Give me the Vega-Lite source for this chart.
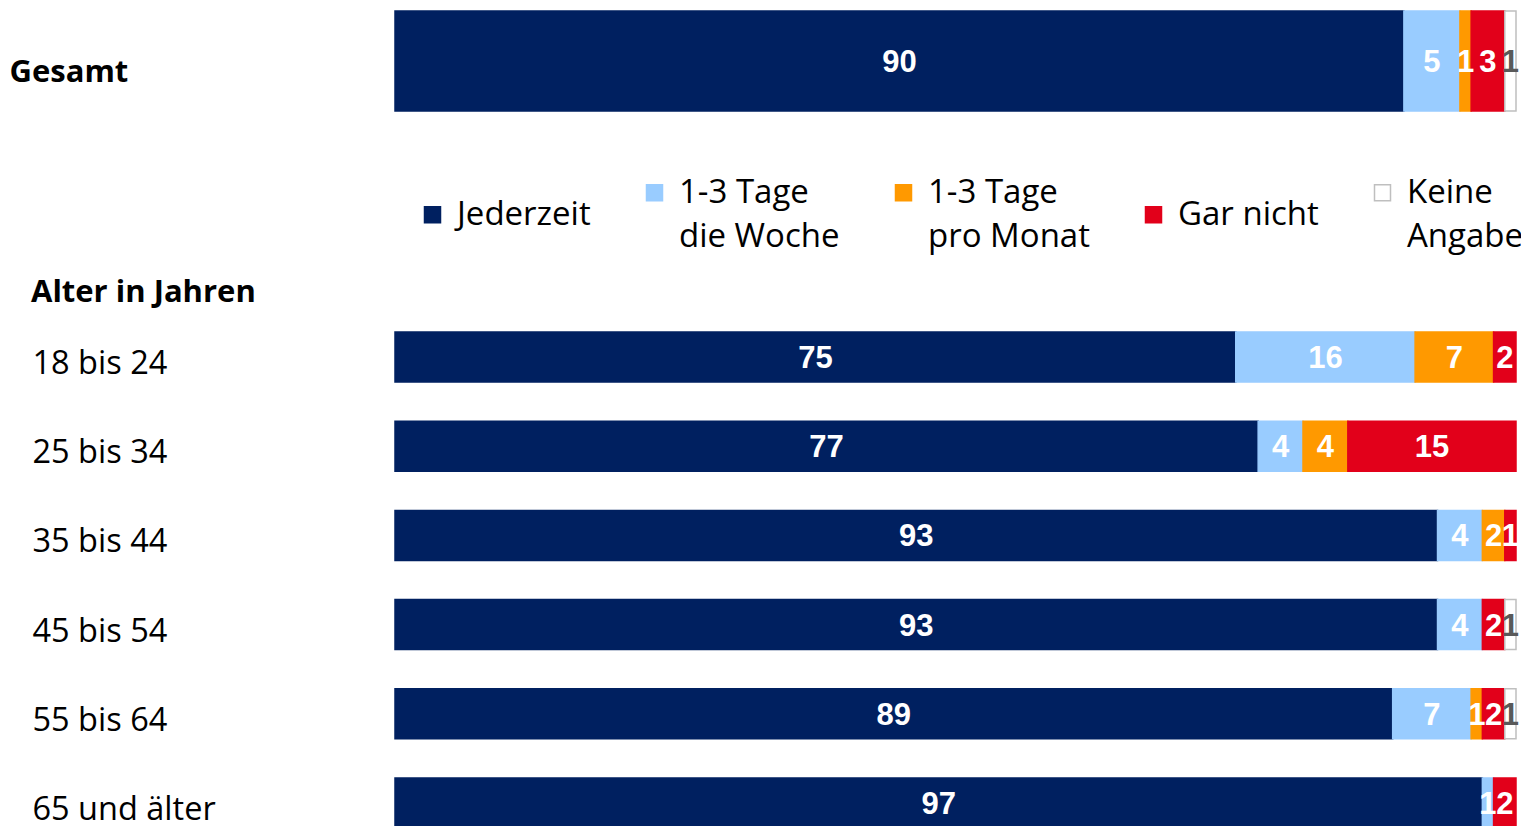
{
  "$schema": "https://vega.github.io/schema/vega-lite/v6.json",
  "padding": {"left": 8, "top": 10, "right": 5, "bottom": 0},
  "background": "white",
  "config": {
    "view": {"stroke": null},
    "style": {"guide-label": {"lineHeight": 44}}
  },
  "datasets": {
    "gesamt": [
      {"group": "Gesamt", "cat": "Jederzeit", "ord": 1, "value": 90},
      {"group": "Gesamt", "cat": "1-3 Tage die Woche", "ord": 2, "value": 5},
      {"group": "Gesamt", "cat": "1-3 Tage pro Monat", "ord": 3, "value": 1},
      {"group": "Gesamt", "cat": "Gar nicht", "ord": 4, "value": 3},
      {"group": "Gesamt", "cat": "Keine Angabe", "ord": 5, "value": 1}
    ],
    "alter": [
      {"group": "18 bis 24", "cat": "Jederzeit", "ord": 1, "value": 75},
      {"group": "18 bis 24", "cat": "1-3 Tage die Woche", "ord": 2, "value": 16},
      {"group": "18 bis 24", "cat": "1-3 Tage pro Monat", "ord": 3, "value": 7},
      {"group": "18 bis 24", "cat": "Gar nicht", "ord": 4, "value": 2},
      {"group": "25 bis 34", "cat": "Jederzeit", "ord": 1, "value": 77},
      {"group": "25 bis 34", "cat": "1-3 Tage die Woche", "ord": 2, "value": 4},
      {"group": "25 bis 34", "cat": "1-3 Tage pro Monat", "ord": 3, "value": 4},
      {"group": "25 bis 34", "cat": "Gar nicht", "ord": 4, "value": 15},
      {"group": "35 bis 44", "cat": "Jederzeit", "ord": 1, "value": 93},
      {"group": "35 bis 44", "cat": "1-3 Tage die Woche", "ord": 2, "value": 4},
      {"group": "35 bis 44", "cat": "1-3 Tage pro Monat", "ord": 3, "value": 2},
      {"group": "35 bis 44", "cat": "Gar nicht", "ord": 4, "value": 1},
      {"group": "45 bis 54", "cat": "Jederzeit", "ord": 1, "value": 93},
      {"group": "45 bis 54", "cat": "1-3 Tage die Woche", "ord": 2, "value": 4},
      {"group": "45 bis 54", "cat": "Gar nicht", "ord": 4, "value": 2},
      {"group": "45 bis 54", "cat": "Keine Angabe", "ord": 5, "value": 1},
      {"group": "55 bis 64", "cat": "Jederzeit", "ord": 1, "value": 89},
      {"group": "55 bis 64", "cat": "1-3 Tage die Woche", "ord": 2, "value": 7},
      {"group": "55 bis 64", "cat": "1-3 Tage pro Monat", "ord": 3, "value": 1},
      {"group": "55 bis 64", "cat": "Gar nicht", "ord": 4, "value": 2},
      {"group": "55 bis 64", "cat": "Keine Angabe", "ord": 5, "value": 1},
      {"group": "65 und älter", "cat": "Jederzeit", "ord": 1, "value": 97},
      {"group": "65 und älter", "cat": "1-3 Tage die Woche", "ord": 2, "value": 1},
      {"group": "65 und älter", "cat": "Gar nicht", "ord": 4, "value": 2}
    ]
  },
  "resolve": {"legend": {"color": "independent", "stroke": "independent"}},
  "spacing": 23,
  "vconcat": [
    {
      "data": {"name": "gesamt"},
      "width": 1121,
      "height": 100,
      "encoding": {
        "y": {
          "field": "group", "type": "nominal",
          "scale": {"paddingInner": 0, "paddingOuter": 0},
          "axis": {"title": null, "ticks": false, "tickSize": 0, "domain": false, "labelAlign": "left", "labelPadding": 386, "labelOffset": 12, "labelFont": "Open Sans", "labelFontSize": 31, "labelFontWeight": "bold", "labelColor": "black", "labelLimit": 400}
        }
      },
      "layer": [
        {
          "mark": {"type": "bar", "strokeWidth": 1.5},
          "encoding": {
            "x": {"field": "value", "type": "quantitative", "stack": "zero", "scale": {"domain": [0, 100], "nice": false}, "axis": null},
            "order": {"field": "ord", "type": "quantitative"},
            "color": {
              "field": "cat", "type": "nominal",
              "scale": {"domain": ["Jederzeit", "1-3 Tage die Woche", "1-3 Tage pro Monat", "Gar nicht", "Keine Angabe"], "range": ["#002060", "#99CCFF", "#FF9900", "#E2001A", "#FFFFFF"]},
              "legend": {
                "title": null, "orient": "none", "legendX": 21, "legendY": 165, "direction": "horizontal", "padding": 0,
                "symbolType": "square", "symbolSize": 256, "symbolStrokeWidth": 1.5, "labelOffset": 8, "columnPadding": 47,
                "labelFont": "Open Sans", "labelFontSize": 33, "labelColor": "black", "labelLimit": 400,
                "labelExpr": "datum.label === '1-3 Tage die Woche' ? ['1-3 Tage', 'die Woche'] : datum.label === '1-3 Tage pro Monat' ? ['1-3 Tage', 'pro Monat'] : datum.label === 'Keine Angabe' ? ['Keine', 'Angabe'] : datum.label"
              }
            },
            "stroke": {
              "field": "cat", "type": "nominal",
              "scale": {"domain": ["Jederzeit", "1-3 Tage die Woche", "1-3 Tage pro Monat", "Gar nicht", "Keine Angabe"], "range": ["#002060", "#99CCFF", "#FF9900", "#E2001A", "#BFBFBF"]},
              "legend": {
                "title": null, "orient": "none", "legendX": 21, "legendY": 165, "direction": "horizontal", "padding": 0,
                "symbolType": "square", "symbolSize": 256, "symbolStrokeWidth": 1.5, "labelOffset": 8, "columnPadding": 47,
                "labelFont": "Open Sans", "labelFontSize": 33, "labelColor": "black", "labelLimit": 400,
                "labelExpr": "datum.label === '1-3 Tage die Woche' ? ['1-3 Tage', 'die Woche'] : datum.label === '1-3 Tage pro Monat' ? ['1-3 Tage', 'pro Monat'] : datum.label === 'Keine Angabe' ? ['Keine', 'Angabe'] : datum.label"
              }
            }
          }
        },
        {
          "mark": {"type": "text", "font": "Liberation Sans", "fontWeight": "bold", "fontSize": 31, "baseline": "middle", "align": "center", "dy": 2},
          "encoding": {
            "x": {"field": "value", "type": "quantitative", "stack": "zero", "bandPosition": 0.5},
            "order": {"field": "ord", "type": "quantitative"},
            "text": {"field": "value", "type": "quantitative"},
            "color": {"condition": {"test": "datum.cat === 'Keine Angabe'", "value": "#595959"}, "value": "#FFFFFF"}
          }
        }
      ]
    },
    {
      "data": {"name": "alter"},
      "width": 1121,
      "height": 496,
      "title": {"text": "Alter in Jahren", "anchor": "start", "frame": "bounds", "font": "Open Sans", "fontSize": 31, "fontWeight": "bold", "color": "black", "offset": 22, "dx": 23},
      "encoding": {
        "y": {
          "field": "group", "type": "nominal", "sort": null,
          "scale": {"paddingInner": 0.4395, "paddingOuter": 0},
          "axis": {"title": null, "ticks": false, "tickSize": 0, "domain": false, "labelAlign": "left", "labelPadding": 363, "minExtent": 387, "labelOffset": 7, "labelFont": "Open Sans", "labelFontSize": 32.5, "labelColor": "black", "labelLimit": 400}
        }
      },
      "layer": [
        {
          "mark": {"type": "bar", "strokeWidth": 1.5},
          "encoding": {
            "x": {"field": "value", "type": "quantitative", "stack": "zero", "scale": {"domain": [0, 100], "nice": false}, "axis": null},
            "order": {"field": "ord", "type": "quantitative"},
            "color": {
              "field": "cat", "type": "nominal",
              "scale": {"domain": ["Jederzeit", "1-3 Tage die Woche", "1-3 Tage pro Monat", "Gar nicht", "Keine Angabe"], "range": ["#002060", "#99CCFF", "#FF9900", "#E2001A", "#FFFFFF"]},
              "legend": null
            },
            "stroke": {
              "field": "cat", "type": "nominal",
              "scale": {"domain": ["Jederzeit", "1-3 Tage die Woche", "1-3 Tage pro Monat", "Gar nicht", "Keine Angabe"], "range": ["#002060", "#99CCFF", "#FF9900", "#E2001A", "#BFBFBF"]},
              "legend": null
            }
          }
        },
        {
          "mark": {"type": "text", "font": "Liberation Sans", "fontWeight": "bold", "fontSize": 31, "baseline": "middle", "align": "center", "dy": 2},
          "encoding": {
            "x": {"field": "value", "type": "quantitative", "stack": "zero", "bandPosition": 0.5},
            "order": {"field": "ord", "type": "quantitative"},
            "text": {"field": "value", "type": "quantitative"},
            "color": {"condition": {"test": "datum.cat === 'Keine Angabe'", "value": "#595959"}, "value": "#FFFFFF"}
          }
        }
      ]
    }
  ]
}
